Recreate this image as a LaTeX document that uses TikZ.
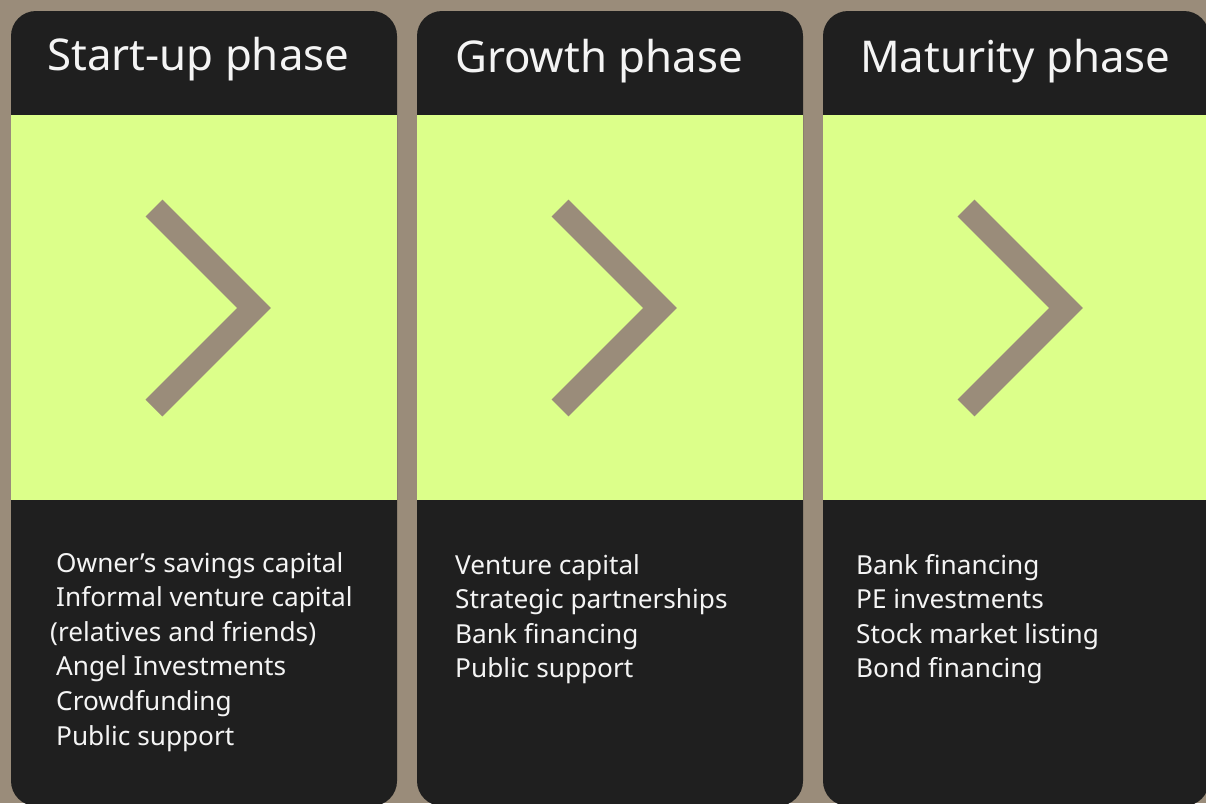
\documentclass[tikz,border=0pt]{standalone}
\usepackage{fontspec}
\setmainfont{Noto Sans}
\definecolor{taupe}{HTML}{9A8C7A}
\definecolor{cardbg}{HTML}{1F1F1F}
\definecolor{lime}{HTML}{DCFF8A}
\definecolor{ink}{HTML}{F4F4F4}
\begin{document}
\begin{tikzpicture}[x=1pt,y=-1pt,
  cardbox/.style={fill=cardbg, rounded corners=25pt},
  band/.style={fill=lime},
  chevron/.style={draw=taupe, line width=24pt, line join=miter},
  title/.style={text=ink, inner sep=0pt, anchor=base west, font=\fontsize{43.8}{50}\selectfont},
  item/.style={text=ink, inner sep=0pt, anchor=base west, font=\fontsize{26.2}{30}\selectfont}]
\useasboundingbox (0,0) rectangle (1206,803);
\fill[taupe] (0,0) rectangle (1206,803);
\begin{scope}
  \clip (0,0) rectangle (1206,803);
  \foreach \dx in {0,406,812} {
    \fill[cardbox] (11+\dx,11) rectangle (397+\dx,806);
    \fill[band] (11+\dx,115) rectangle (397+\dx,500);
    \draw[chevron] (154+\dx,208) -- (254+\dx,308) -- (154+\dx,408);
  }
\end{scope}
% phase titles
\node[title] (t1) at (47,70) {Start-up phase};
\node[title] (t2) at (455,72.5) {Growth phase};
\node[title] (t3) at (860,72) {Maturity phase};
% start-up financing
\node[item] (a1) at (56,572) {Owner’s savings capital};
\node[item] (a2) at (56,606.6) {Informal venture capital};
\node[item] (a3) at (50,641.2) {(relatives and friends)};
\node[item] (a4) at (56,675.8) {Angel Investments};
\node[item] (a5) at (56,710.4) {Crowdfunding};
\node[item] (a6) at (56,745) {Public support};
% growth financing
\node[item] (b1) at (455,574) {Venture capital};
\node[item] (b2) at (455,608.6) {Strategic partnerships};
\node[item] (b3) at (455,643.2) {Bank financing};
\node[item] (b4) at (455,677.8) {Public support};
% maturity financing
\node[item] (c1) at (856,574) {Bank financing};
\node[item] (c2) at (856,608.6) {PE investments};
\node[item] (c3) at (856,643.2) {Stock market listing};
\node[item] (c4) at (856,677.8) {Bond financing};
\end{tikzpicture}
\end{document}
